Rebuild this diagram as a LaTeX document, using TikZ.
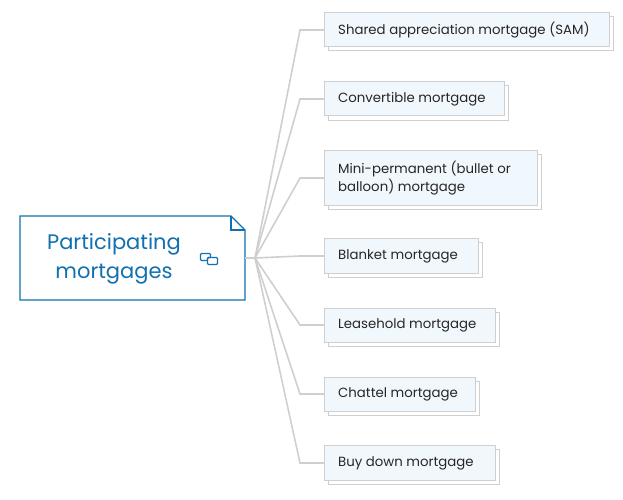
\documentclass[tikz,border=0pt]{standalone}
\usepackage{fontspec}
\setmainfont{Poppins}
\definecolor{blu}{HTML}{1170B0}
\definecolor{fillb}{HTML}{F0F7FD}
\definecolor{edg}{HTML}{CFCFCF}
\begin{document}
\begin{tikzpicture}[x=1pt,y=-1pt,
  conn/.style={draw=edg,line width=1.6pt},
  lbl/.style={anchor=west,font=\fontsize{13.3}{18}\selectfont,text=black!85,align=left,inner sep=0pt}]
\useasboundingbox (0,0) rectangle (623,500);
\coordinate (hub) at (255,258);
% main node
\draw[blu,line width=1.2pt,fill=white] (20,216) -- (231,216) -- (245,230) -- (245,300) -- (20,300) -- cycle;
\draw[blu,line width=1.2pt] (231,216) -- (231,230) -- (245,230);
\node[text=blu,font=\fontsize{21}{29}\selectfont,align=center] (main) at (114,259) {Participating\\mortgages};
\node[inner sep=0pt] (ic) at (209,259) {\tikz[x=1pt,y=1pt,blu,line width=1.2pt]{\draw[rounded corners=1pt](0,0) rectangle (10,7);\draw[rounded corners=1pt,fill=white](7,-4) rectangle (17,3);\draw[rounded corners=1pt](7,0)--(7,3)--(10,3);}};
\draw[conn] (245,258) -- (hub);
\foreach \i/\y/\w/\hh/\t in {1/30/285/34/Shared appreciation mortgage (SAM),2/99/180/34/Convertible mortgage,3/178/213/55/{Mini-permanent (bullet or\\balloon) mortgage},4/256/154/35/Blanket mortgage,5/325/171/34/Leasehold mortgage,6/394/151/34/Chattel mortgage,7/463/171/35/Buy down mortgage}{
  \coordinate (b\i) at (324,\y);
  \draw[conn] (hub) -- (300,\y) -- (b\i);
  \draw[edg,line width=1pt,fill=white] (328,\y-\hh/2+4) rectangle (328+\w,\y+\hh/2+4);
  \draw[edg,line width=1pt,fill=fillb] (324,\y-\hh/2) rectangle (324+\w,\y+\hh/2);
  \node[lbl] (t\i) at (338,\y) {\t};
}
\end{tikzpicture}
\end{document}
